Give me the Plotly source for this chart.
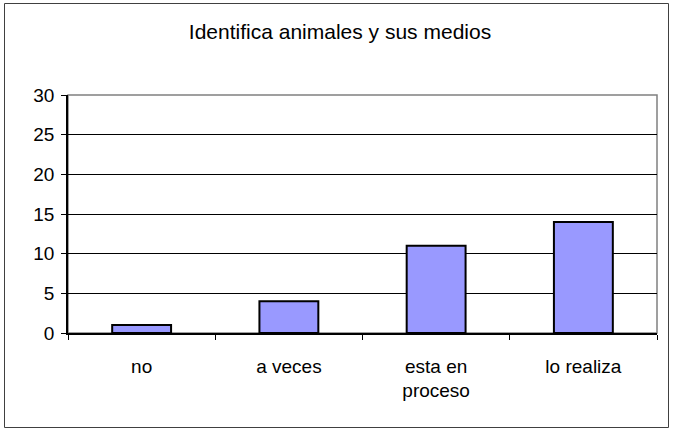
import plotly.graph_objects as go

categories = ["no", "a veces", "esta en<br>proceso", "lo realiza"]
values = [1, 4, 11, 14]
y_ticks = [0, 5, 10, 15, 20, 25, 30]

W, H = 673, 431
L, R, T, B = 68, 16, 95, 98
pw, ph = W - L - R, H - T - B

fig = go.Figure()
fig.add_trace(go.Bar(
    x=categories, y=values,
    marker=dict(color="#9999FF", line=dict(color="black", width=2)),
    width=0.4,
))

# outer chart border (Excel style)
fig.add_shape(type="rect", xref="paper", yref="paper",
              x0=(4.5 - L) / pw, x1=(668.5 - L) / pw,
              y0=(T + ph - 427.5) / ph, y1=(T + ph - 3.5) / ph,
              line=dict(color="#404040", width=1), layer="below")
# plot area border
fig.add_shape(type="rect", xref="paper", yref="paper", x0=0, x1=1, y0=0, y1=1,
              line=dict(color="#808080", width=1.5), layer="below")

fig.update_layout(
    width=W, height=H,
    margin=dict(l=L, r=R, t=T, b=B),
    paper_bgcolor="white", plot_bgcolor="white",
    font=dict(family="Liberation Sans, Arial", size=19, color="black"),
    title=dict(text="Identifica animales y sus medios", x=340 / W, xref="container",
               xanchor="center", y=(H - 32) / H, yanchor="middle",
               font=dict(size=21)),
    showlegend=False,
)
fig.update_xaxes(
    showline=True, linecolor="black", linewidth=1.5,
    ticks="outside", tickson="boundaries", ticklen=5, tickcolor="black",
    ticklabelstandoff=15, showgrid=False,
)
fig.update_yaxes(
    range=[0, 30], tickvals=y_ticks, showline=True, linecolor="black", linewidth=1.5,
    ticks="outside", ticklen=5, tickcolor="black", ticklabelstandoff=3,
    showgrid=True, gridcolor="black", gridwidth=1, zeroline=False,
)

fig.write_html("out.html", config={"displayModeBar": False},
               post_script="document.body.style.margin='0';")
